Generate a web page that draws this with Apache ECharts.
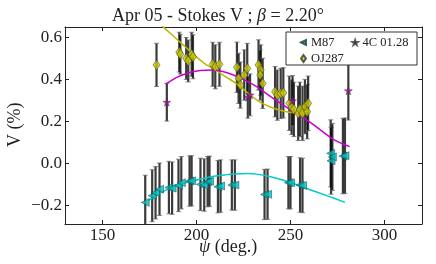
<!DOCTYPE html>
<html><head><meta charset="utf-8">
<script src="https://cdn.jsdelivr.net/npm/echarts@6/dist/echarts.min.js"></script>
<style>html,body{margin:0;padding:0;background:#fff}#c{width:436px;height:264px}</style>
</head><body><div id="c"></div>
<script>
// ---- data ----
const xTicks = [150, 200, 250, 300];
const yTicks = [-0.2, 0, 0.2, 0.4, 0.6];
const yTickLabels = ['−0.2', '0.0', '0.2', '0.4', '0.6'];

const m87Psi = [172.7,176.4,178.2,180.3,185.3,187.0,190.4,191.9,196.3,197.4,202.1,204.1,205.9,206.9,211.4,212.8,218.8,220.4,236.2,237.8,248.9,250.0,255.1,256.4,271.4,271.6,272.3,277.9,279.0];
const m87V   = [-0.187,-0.155,-0.141,-0.124,-0.116,-0.119,-0.106,-0.093,-0.085,-0.084,-0.101,-0.104,-0.088,-0.086,-0.112,-0.109,-0.104,-0.104,-0.149,-0.148,-0.093,-0.093,-0.104,-0.106,0.047,0.012,0.030,0.034,0.036];
const m87Err = [0.13,0.124,0.125,0.125,0.125,0.125,0.125,0.125,0.12,0.12,0.125,0.125,0.12,0.12,0.125,0.125,0.12,0.12,0.12,0.12,0.125,0.125,0.13,0.13,0.16,0.16,0.16,0.18,0.18];

const ojPsi = [178.7,190.8,191.4,194.5,195.6,197.4,198.1,208.6,210.0,212.2,221.5,222.4,223.3,225.4,227.0,233.0,234.2,233.9,235.2,241.8,243.0,244.8,246.2,249.4,250.6,251.8,254.1,255.0,256.4,257.7,258.9,259.4];
const ojV   = [0.469,0.530,0.520,0.500,0.488,0.520,0.508,0.472,0.460,0.472,0.458,0.405,0.373,0.421,0.452,0.469,0.445,0.421,0.381,0.341,0.325,0.333,0.336,0.286,0.267,0.257,0.238,0.257,0.238,0.270,0.246,0.286];
const ojErr = [0.103,0.095,0.095,0.10,0.10,0.105,0.105,0.105,0.105,0.105,0.12,0.12,0.11,0.12,0.12,0.12,0.12,0.12,0.12,0.12,0.12,0.12,0.12,0.13,0.13,0.13,0.13,0.13,0.13,0.13,0.13,0.13];

const c4Psi = [184.2,227.3,228.5,251.1,280.8];
const c4V   = [0.291,0.315,0.326,0.298,0.346];
const c4Err = [0.09,0.10,0.10,0.12,0.14];

const m87FitPsi = [174,180,185,190,195,200,210,215,220,227,232,240,250,260,270,279];
const m87FitV   = [-0.180,-0.145,-0.124,-0.106,-0.091,-0.080,-0.061,-0.056,-0.052,-0.049,-0.052,-0.066,-0.092,-0.125,-0.157,-0.187];
const ojFitPsi = [180,186,192,198,204,210,216,222,228,234,240,246,252,256,259.5];
const ojFitV   = [0.668,0.620,0.572,0.523,0.478,0.445,0.41,0.375,0.330,0.290,0.266,0.249,0.241,0.242,0.250];
const c4FitPsi = [183.5,190,196,202,208,214,220,226,232,238,244,250,256,262,268,274,281.5];
const c4FitV   = [0.377,0.412,0.432,0.442,0.445,0.438,0.42,0.395,0.365,0.327,0.29,0.255,0.222,0.185,0.145,0.108,0.079];

// ---- helpers ----
const zip = (a, b, c) => a.map((v, i) => c ? [v, b[i], c[i]] : [v, b[i]]);
const FONT = 'Liberation Serif';
const TRI_LEFT = 'path://M0,5L10,0L10,10Z';
const STAR = 'path://M50,0L61,35L98,35L68,57L79,91L50,70L21,91L32,57L2,35L39,35Z';

function errRender(params, api) {
  const x = api.value(0), y = api.value(1), e = api.value(2);
  const top = api.coord([x, y + e]), bot = api.coord([x, y - e]);
  const cw = 2.5;
  const st = {stroke: 'rgba(10,10,10,0.8)', lineWidth: 2.2};
  const cs = {stroke: 'rgba(100,100,100,0.75)', lineWidth: 1};
  return {type: 'group', children: [
    {type: 'line', shape: {x1: top[0], y1: top[1], x2: bot[0], y2: bot[1]}, style: st},
    {type: 'line', shape: {x1: top[0] - cw, y1: top[1], x2: top[0] + cw, y2: top[1]}, style: cs},
    {type: 'line', shape: {x1: bot[0] - cw, y1: bot[1], x2: bot[0] + cw, y2: bot[1]}, style: cs}
  ]};
}
function errSeries(p, v, e) {
  return {type: 'custom', renderItem: errRender, data: zip(p, v, e), clip: true, z: 1,
          encode: {x: 0, y: 1}, silent: true};
}
function fitSeries(p, v, color) {
  return {type: 'line', data: zip(p, v), showSymbol: false, smooth: 0.35, clip: true, z: 2,
          lineStyle: {color: color, width: 1.5}, silent: true};
}

function axisBase(ticks) {
  return {
    axisLine: {show: true, onZero: false, lineStyle: {color: '#222', width: 1}},
    axisTick: {inside: true, length: 4, customValues: ticks, lineStyle: {color: '#222'}},
    splitLine: {show: false}
  };
}

const legText = {fontFamily: FONT, fontSize: 12.5, color: '#222'};

const chart = echarts.init(document.getElementById('c'), null, {renderer: 'canvas'});
chart.setOption({
  animation: false,
  backgroundColor: '#fff',
  title: {
    text: '{a|Apr 05 - Stokes V ; }{b|β}{a| = 2.20°}',
    left: 'center', top: 2,
    textStyle: {rich: {
      a: {fontFamily: FONT, fontSize: 18, color: '#222', fontWeight: 'normal'},
      b: {fontFamily: FONT, fontSize: 18, color: '#222', fontWeight: 'normal', fontStyle: 'italic'}
    }}
  },
  grid: {left: 65, right: 14, top: 27, bottom: 40},
  xAxis: [
    Object.assign({type: 'value', min: 130, max: 320, position: 'bottom',
      axisLabel: {customValues: xTicks, fontFamily: FONT, fontSize: 17, color: '#222', margin: 3}},
      axisBase(xTicks)),
    Object.assign(axisBase(xTicks), {type: 'value', min: 130, max: 320, position: 'top', axisLabel: {show: false}})
  ],
  yAxis: [
    Object.assign({type: 'value', min: -0.29, max: 0.65, position: 'left',
      axisLabel: {customValues: yTicks, fontFamily: FONT, fontSize: 17, color: '#222', margin: 3,
        formatter: v => yTickLabels[yTicks.findIndex(t => Math.abs(t - v) < 1e-6)]}},
      axisBase(yTicks)),
    Object.assign(axisBase(yTicks), {type: 'value', min: -0.29, max: 0.65, position: 'right', axisLabel: {show: false}})
  ],
  legend: [
    {data: [{name: 'M87', icon: TRI_LEFT}, {name: '4C 01.28', icon: STAR}], left: 300, top: 36, padding: 0,
     itemWidth: 5, itemHeight: 5, itemGap: 17, z: 12, textStyle: legText},
    {data: [{name: 'OJ287', icon: 'diamond'}], left: 300, top: 52, padding: 0,
     itemWidth: 5, itemHeight: 7, z: 12, textStyle: legText}
  ],
  graphic: [
    {type: 'rect', z: 10, shape: {x: 286, y: 32, width: 131, height: 33},
     style: {fill: '#fff', stroke: '#333', lineWidth: 1}},
    {type: 'text', left: 199, top: 238, z: 10,
     style: {text: '{b|ψ}{a| (deg.)}', rich: {
       a: {fontFamily: FONT, fontSize: 18, fill: '#222'},
       b: {fontFamily: FONT, fontSize: 18, fill: '#222', fontStyle: 'italic'}}}},
    {type: 'text', rotation: Math.PI / 2, x: 6, y: 147, z: 10,
     style: {text: 'V (%)', fontFamily: FONT, fontSize: 18, fill: '#222'}}
  ],
  series: [
    errSeries(m87Psi, m87V, m87Err),
    errSeries(ojPsi, ojV, ojErr),
    errSeries(c4Psi, c4V, c4Err),
    fitSeries(m87FitPsi, m87FitV, '#00cccc'),
    fitSeries(ojFitPsi, ojFitV, '#b8b800'),
    fitSeries(c4FitPsi, c4FitV, '#cc00cc'),
    {name: 'M87', type: 'scatter', data: zip(m87Psi, m87V), symbol: TRI_LEFT, symbolSize: 8, z: 3,
     itemStyle: {color: '#00bfbf', borderColor: '#1a3a3a', borderWidth: 0.6}},
    {name: 'OJ287', type: 'scatter', data: zip(ojPsi, ojV), symbol: 'diamond', symbolSize: [7, 10], z: 3,
     itemStyle: {color: '#c8c800', borderColor: '#333', borderWidth: 0.6}},
    {name: '4C 01.28', type: 'scatter', data: zip(c4Psi, c4V), symbol: STAR, symbolSize: 8, z: 3,
     itemStyle: {color: '#a010a0', borderColor: '#333', borderWidth: 0.5}}
  ]
});
</script>
</body></html>
